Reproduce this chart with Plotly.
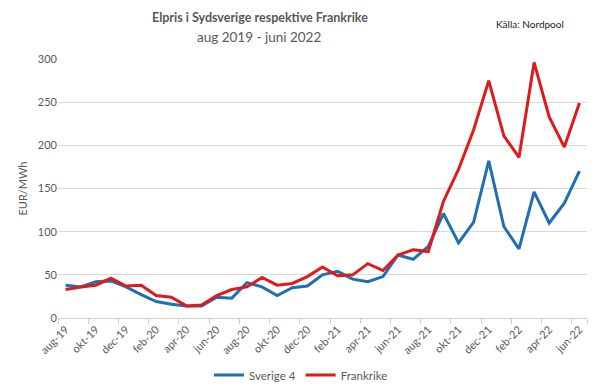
import plotly.graph_objects as go

months = ["aug-19", "sep-19", "okt-19", "nov-19", "dec-19", "jan-20", "feb-20", "mar-20",
          "apr-20", "maj-20", "jun-20", "jul-20", "aug-20", "sep-20", "okt-20", "nov-20",
          "dec-20", "jan-21", "feb-21", "mar-21", "apr-21", "maj-21", "jun-21", "jul-21",
          "aug-21", "sep-21", "okt-21", "nov-21", "dec-21", "jan-22", "feb-22", "mar-22",
          "apr-22", "maj-22", "jun-22"]

sverige4 = [38, 36, 42, 43, 36, 27, 19, 16, 14, 14, 24, 23, 41, 36, 26, 35, 37, 50,
            54, 45, 42, 48, 73, 68, 83, 121, 87, 111, 182, 106, 80, 146, 110, 133, 170]

frankrike = [33, 36, 38, 46, 37, 38, 26, 24, 14, 15, 26, 33, 36, 47, 38, 40, 48, 59,
             49, 50, 63, 55, 73, 79, 77, 135, 172, 218, 275, 211, 186, 296, 233, 198, 249]

tick_labels = months[::2]

font = "Lato, 'Open Sans', sans-serif"
gray = "#595959"

W, H = 600, 391
l, r, t, b = 58, 13, 59, 73
pw, ph = W - l - r, H - t - b


def px2paper(px, py):
    return (px - l) / pw, (H - b - py) / ph


fig = go.Figure()
fig.add_trace(go.Scatter(x=months, y=sverige4, mode="lines", name="Sverige 4",
                         line=dict(color="#1F6FB2", width=3)))
fig.add_trace(go.Scatter(x=months, y=frankrike, mode="lines", name="Frankrike",
                         line=dict(color="#DE1B1B", width=3)))

anns = []
for text, px, py, size, col in [
    ("<b>Elpris i Sydsverige respektive Frankrike</b>", 260, 17, 12.5, gray),
    ("aug 2019 - juni 2022", 259, 37, 13.5, gray),
    ("Källa: Nordpool", 530, 24, 10, "#222222"),
]:
    ax, ay = px2paper(px, py)
    anns.append(dict(text=text, x=ax, y=ay, xref="paper", yref="paper", showarrow=False,
                     xanchor="center", yanchor="middle",
                     font=dict(size=size, color=col, family=font)))

fig.update_layout(
    width=W, height=H,
    margin=dict(l=l, r=r, t=t, b=b, autoexpand=False),
    paper_bgcolor="white", plot_bgcolor="white",
    font=dict(family=font, color=gray, size=11),
    showlegend=True,
    legend=dict(orientation="h", xref="container", yref="container",
                x=301 / W, xanchor="center", y=1 - 375 / H, yanchor="middle",
                font=dict(size=11.5, color=gray), itemwidth=30),
    annotations=anns,
)

fig.update_xaxes(
    type="category", categoryorder="array", categoryarray=months,
    range=[-0.5, len(months) - 0.5], automargin=False,
    tickmode="array", tickvals=tick_labels, ticktext=tick_labels,
    tickangle=-45, tickfont=dict(size=11, color=gray),
    showline=True, linecolor="#d0d0d0", linewidth=1,
    ticks="outside", tickson="boundaries", ticklen=5, tickcolor="#d0d0d0",
    showgrid=False, zeroline=False,
)
fig.update_yaxes(
    range=[0, 300], dtick=50, tickfont=dict(size=11, color=gray), automargin=False,
    showgrid=True, gridcolor="#d9d9d9", gridwidth=1, zeroline=False,
    title=dict(text="EUR/MWh", font=dict(size=11, color=gray), standoff=8),
    ticks="", showline=False,
)

fig.write_html("out.html", config={"displayModeBar": False},
               post_script="document.body.style.margin='0';document.body.style.overflow='hidden';")
